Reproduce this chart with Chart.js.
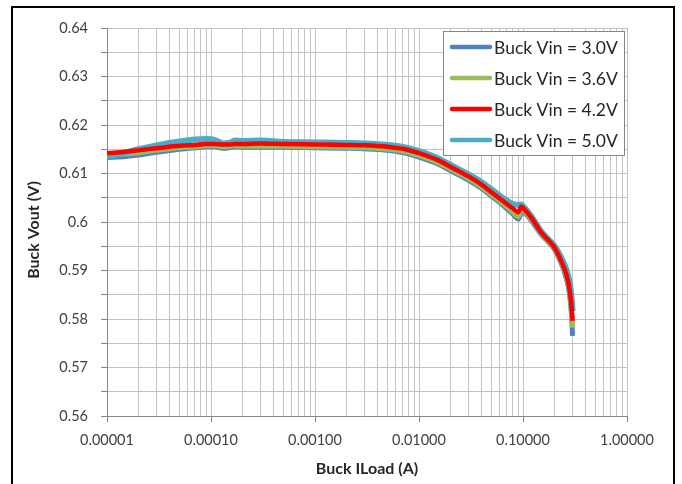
<!DOCTYPE html>
<html>
<head>
<meta charset="utf-8">
<script src="https://cdn.jsdelivr.net/npm/chart.js@4"></script>
<style>
  body { margin: 0; background: #fff; }
  #wrap { width: 682px; height: 484px; }
</style>
</head>
<body>
<div id="wrap"><canvas id="myChart" width="682" height="484"></canvas></div>
<script>
// load current (A)
const iLoad = [0.00001, 0.000015, 0.00002, 0.00003, 0.00005, 0.00007, 0.00009, 0.00011, 0.00013, 0.00015,
    0.00017, 0.0002, 0.0003, 0.0005, 0.001, 0.002, 0.003, 0.005, 0.007, 0.01,
    0.015, 0.02, 0.03, 0.04, 0.05, 0.06, 0.07, 0.08, 0.09, 0.096,
    0.1, 0.12, 0.15, 0.18, 0.2, 0.23, 0.26, 0.28, 0.29, 0.3];

const vout30 = [0.6133, 0.6135, 0.6138, 0.6144, 0.6150, 0.6153, 0.6155, 0.6155, 0.6152, 0.6153,
    0.6155, 0.6154, 0.6154, 0.6154, 0.6153, 0.6152, 0.6151, 0.6148, 0.6143, 0.6134,
    0.6120, 0.6106, 0.6086, 0.6069, 0.6053, 0.6040, 0.6027, 0.6016, 0.6006, 0.6018,
    0.6020, 0.6003, 0.5974, 0.5956, 0.5944, 0.5918, 0.5885, 0.5852, 0.5820, 0.5765];
const vout36 = [0.6137, 0.6140, 0.6143, 0.6148, 0.6153, 0.6155, 0.6157, 0.6157, 0.6155, 0.6156,
    0.6157, 0.6156, 0.6156, 0.6156, 0.6155, 0.6154, 0.6153, 0.6150, 0.6146, 0.6137,
    0.6123, 0.6109, 0.6089, 0.6072, 0.6056, 0.6043, 0.6031, 0.6020, 0.6011, 0.6026,
    0.6025, 0.6006, 0.5976, 0.5958, 0.5946, 0.5920, 0.5889, 0.5857, 0.5827, 0.5782];
const vout42 = [0.6142, 0.6145, 0.6148, 0.6152, 0.6157, 0.6159, 0.6161, 0.6161, 0.6160, 0.6160,
    0.6161, 0.6161, 0.6162, 0.6161, 0.6160, 0.6159, 0.6158, 0.6155, 0.6151, 0.6142,
    0.6128, 0.6114, 0.6094, 0.6077, 0.6061, 0.6048, 0.6037, 0.6028, 0.6020, 0.6032,
    0.6029, 0.6009, 0.5978, 0.5960, 0.5948, 0.5922, 0.5893, 0.5862, 0.5835, 0.5796];
const vout50 = [0.6134, 0.6143, 0.6150, 0.6158, 0.6166, 0.6170, 0.6171, 0.6169, 0.6162, 0.6163,
    0.6168, 0.6167, 0.6168, 0.6165, 0.6164, 0.6163, 0.6162, 0.6159, 0.6155, 0.6146,
    0.6132, 0.6118, 0.6098, 0.6082, 0.6067, 0.6054, 0.6044, 0.6037, 0.6035, 0.6036,
    0.6033, 0.6012, 0.5980, 0.5962, 0.5951, 0.5929, 0.5903, 0.5876, 0.5853, 0.5816];

const seriesNames = ['Buck Vin = 3.0V', 'Buck Vin = 3.6V', 'Buck Vin = 4.2V', 'Buck Vin = 5.0V'];
const seriesColors = ['#4f81bd', '#9bbb59', '#ff0000', '#4bacc6'];

const xTickLabels = ['0.00001', '0.00010', '0.00100', '0.01000', '0.10000', '1.00000'];
const yTickLabels = ['0.56', '0.57', '0.58', '0.59', '0.6', '0.61', '0.62', '0.63', '0.64'];

Chart.defaults.font.family = 'Lato';
Chart.defaults.color = '#404040';

function pts(ys) {
    return ys.map((y, i) => ({x: iLoad[i], y: y}));
}

const allSeries = [vout30, vout36, vout42, vout50];
// red on top, then cyan, green, blue
const drawOrder = [3, 2, 0, 1];
const lineWidths = [5, 5, 4.5, 6];
const datasets = allSeries.map((ys, i) => ({
    label: seriesNames[i],
    data: pts(ys),
    borderColor: seriesColors[i],
    backgroundColor: seriesColors[i],
    borderWidth: lineWidths[i],
    pointRadius: 0,
    cubicInterpolationMode: 'monotone',
    order: drawOrder[i]
}));

function isDecade(v) {
    const l = Math.log10(v);
    return Math.abs(l - Math.round(l)) < 1e-6;
}

// excel-ish legend box inside the plot + outer frame
const boxPlugin = {
    id: 'boxPlugin',
    afterDraw(chart) {
        const c = chart.ctx;
        c.save();
        c.strokeStyle = '#000';
        c.lineWidth = 2;
        c.strokeRect(12, 7, 662, 500);

        c.fillStyle = '#fff';
        c.fillRect(443.5, 31.5, 181, 124);
        c.strokeStyle = '#868686';
        c.lineWidth = 1;
        c.strokeRect(443.5, 31.5, 181, 124);

        c.font = '17.5px Lato';
        c.textBaseline = 'middle';
        chart.data.datasets.forEach((ds, i) => {
            const y = 47 + i * 31;
            c.strokeStyle = ds.borderColor;
            c.lineWidth = 4.5;
            c.lineCap = 'round';
            c.beginPath();
            c.moveTo(452, y);
            c.lineTo(490, y);
            c.stroke();
            c.fillStyle = '#262626';
            c.fillText(ds.label, 494, y + 1);
        });
        c.restore();
    }
};

const ctx = document.getElementById('myChart').getContext('2d');
const myChart = new Chart(ctx, {
    type: 'line',
    data: { datasets: datasets },
    options: {
        responsive: false,
        animation: false,
        devicePixelRatio: 1,
        layout: { padding: { left: 12, top: 28, right: 55, bottom: 0 } },
        plugins: {
            legend: { display: false },
            tooltip: { enabled: false }
        },
        scales: {
            x: {
                type: 'logarithmic',
                min: 0.00001,
                max: 1,
                afterBuildTicks: (scale) => {
                    const t = [];
                    for (let d = -5; d < 0; d++) {
                        for (let m = 1; m < 10; m++) t.push({ value: m * Math.pow(10, d) });
                    }
                    t.push({ value: 1 });
                    scale.ticks = t;
                },
                afterFit: (scale) => { scale.height = 68; },
                grid: {
                    color: '#c3c3c3',
                    tickLength: 6,
                    tickColor: (c) => (c.tick && isDecade(c.tick.value)) ? '#868686' : 'rgba(0,0,0,0)'
                },
                border: { color: '#868686' },
                ticks: {
                    autoSkip: false,
                    maxRotation: 0,
                    padding: 10,
                    font: { size: 14.5 },
                    color: '#404040',
                    callback: (v) => isDecade(v) ? xTickLabels[Math.round(Math.log10(v)) + 5] : ''
                },
                title: {
                    display: true,
                    text: 'Buck ILoad (A)',
                    font: { size: 16, weight: 'bold' },
                    color: '#262626',
                    padding: { top: 0, bottom: 6 }
                }
            },
            y: {
                min: 0.56,
                max: 0.64,
                afterBuildTicks: (scale) => {
                    const t = [];
                    yTickLabels.forEach((lab, i) => {
                        t.push({ value: parseFloat(lab) });
                        if (i < yTickLabels.length - 1) t.push({ value: parseFloat(lab) + 0.005 });
                    });
                    scale.ticks = t;
                },
                afterFit: (scale) => { scale.width = 95; },
                grid: {
                    color: '#c3c3c3',
                    tickLength: 6,
                    tickColor: '#868686'
                },
                border: { color: '#868686' },
                ticks: {
                    autoSkip: false,
                    padding: 13,
                    font: { size: 14.5 },
                    color: '#404040',
                    callback: (v) => {
                        const idx = yTickLabels.findIndex(l => Math.abs(parseFloat(l) - v) < 1e-6);
                        return idx >= 0 ? yTickLabels[idx] : '';
                    }
                },
                title: {
                    display: true,
                    text: 'Buck Vout (V)\u2002\u2002',
                    font: { size: 16, weight: 'bold' },
                    color: '#262626',
                    padding: { top: 12, bottom: 0 }
                }
            }
        }
    },
    plugins: [boxPlugin]
});
</script>
</body>
</html>
